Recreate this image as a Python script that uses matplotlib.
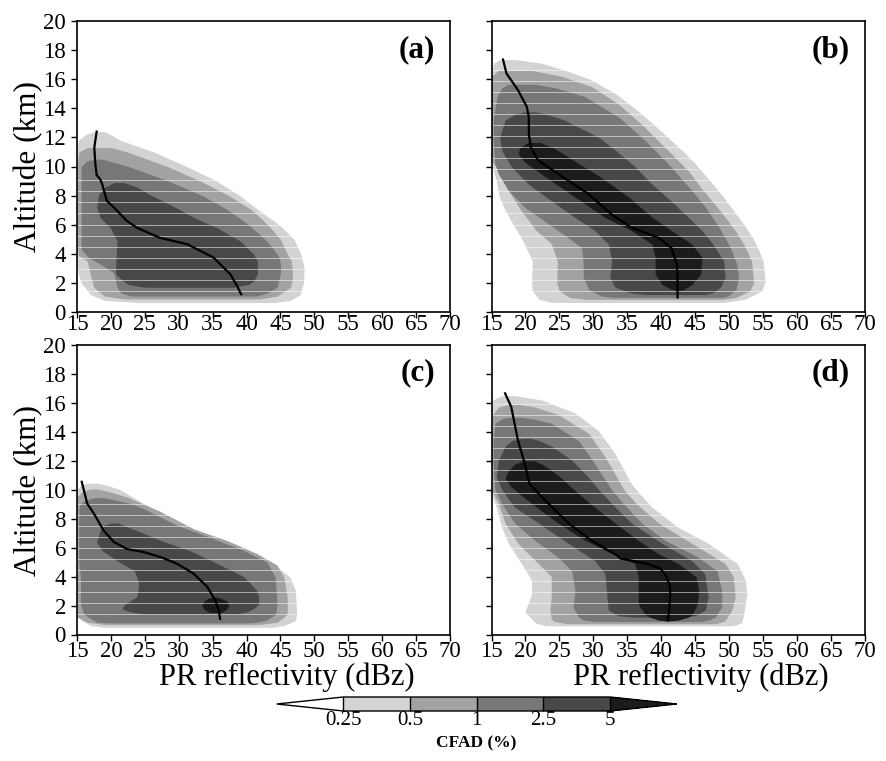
import numpy as np
import matplotlib
matplotlib.use("Agg")
from matplotlib import pyplot as plt
from matplotlib.colors import ListedColormap, BoundaryNorm
from matplotlib.cm import ScalarMappable

plt.rcParams["font.family"] = ["Liberation Serif", "DejaVu Serif"]

# CFAD levels (%) and their fill shades
LEVELS = [0.25, 0.5, 1, 2.5, 5]
LEVEL_LABELS = ["0.25", "0.5", "1", "2.5", "5"]
GRAYS = ["#d3d3d3", "#a2a2a2", "#777777", "#484848", "#1b1b1b"]

# Contour extents.
# Each row: altitude (km), left edge (dBZ), right edge (dBZ)
A_025 = np.array([
    [0.65, 24.0, 44.0], [0.8, 19.0, 46.5], [1.2, 17.0, 47.9], [2.0, 15.6, 48.4],
    [3.0, 15.0, 48.5], [4.0, 15.0, 48.0], [5.0, 15.0, 47.0], [6.0, 15.0, 44.8],
    [7.0, 15.0, 41.8], [8.0, 15.0, 39.0], [9.0, 15.0, 35.6], [10.0, 15.0, 31.2],
    [11.0, 15.0, 26.3], [11.8, 15.2, 21.4], [12.2, 16.3, 19.9], [12.4, 17.5, 19.0],
])
A_05 = np.array([
    [0.9, 22.0, 42.0], [1.1, 19.0, 44.5], [1.7, 17.5, 46.5], [2.5, 17.0, 46.8],
    [3.5, 16.5, 46.6], [3.9, 15.2, 46.1], [5.0, 15.0, 45.0], [6.0, 15.0, 43.1],
    [7.0, 15.0, 40.8], [8.0, 15.0, 37.4], [9.0, 15.0, 33.2], [10.0, 15.0, 28.3],
    [11.0, 15.3, 22.4], [11.3, 16.5, 20.0],
])
A_1 = np.array([
    [1.1, 23.0, 41.5], [1.3, 21.5, 43.0], [1.7, 20.9, 44.5], [2.7, 20.4, 45.0],
    [3.3, 18.4, 45.0], [3.75, 16.7, 44.8], [4.3, 15.6, 44.0], [5.0, 15.6, 42.7],
    [6.0, 15.6, 40.3], [7.0, 15.6, 37.3], [8.0, 15.6, 33.5], [9.0, 15.6, 28.5],
    [10.0, 15.6, 22.6], [10.4, 16.5, 19.5], [10.5, 17.5, 18.8],
])
A_25 = np.array([
    [1.7, 25.0, 38.0], [1.9, 22.5, 40.3], [2.1, 21.9, 41.0], [2.6, 20.7, 41.6],
    [3.5, 20.7, 41.6], [4.0, 20.8, 41.0], [4.9, 20.9, 39.0], [5.8, 19.9, 35.6],
    [6.5, 18.4, 32.2], [7.2, 17.9, 29.5], [8.1, 18.2, 25.6], [8.6, 19.2, 23.8],
    [8.9, 20.5, 21.9],
])

B_025 = np.array([
    [0.65, 24.0, 49.0], [0.87, 22.0, 52.3], [1.45, 21.0, 54.8], [2.1, 20.9, 55.3],
    [3.5, 21.0, 55.0], [4.2, 20.3, 54.4], [5.0, 19.5, 53.6], [6.0, 18.2, 52.2],
    [7.0, 17.0, 50.6], [8.0, 16.1, 49.0], [9.0, 15.7, 47.2], [10.2, 15.0, 45.0],
    [11.0, 15.0, 43.3], [12.0, 15.0, 41.0], [13.0, 15.0, 38.6], [14.0, 15.0, 36.1],
    [15.0, 15.0, 33.3], [16.0, 15.0, 29.5], [16.6, 15.0, 25.9], [17.1, 15.3, 22.4],
    [17.35, 16.3, 18.5],
])
B_05 = np.array([
    [0.87, 29.0, 49.0], [1.0, 26.5, 51.0], [1.45, 25.0, 53.0], [2.0, 24.6, 53.6],
    [3.5, 24.7, 53.3], [4.7, 23.8, 52.1], [5.6, 21.6, 50.9], [7.0, 19.3, 48.6],
    [8.5, 17.3, 45.9], [9.7, 16.1, 44.0], [10.4, 15.0, 42.5], [11.3, 15.0, 40.6],
    [12.9, 15.0, 37.1], [14.3, 15.0, 33.7], [15.5, 15.0, 29.7], [16.2, 15.0, 25.3],
    [16.6, 16.0, 21.0],
])
B_1 = np.array([
    [1.0, 33.0, 48.9], [1.1, 31.2, 49.8], [1.55, 29.3, 51.0], [2.4, 28.5, 51.4],
    [3.3, 28.5, 51.1], [4.4, 28.3, 50.2], [5.1, 26.3, 49.4], [6.05, 23.4, 48.2],
    [7.2, 19.9, 46.5], [8.35, 17.5, 44.5], [9.5, 16.0, 42.3], [10.2, 15.5, 41.0],
    [11.8, 15.25, 37.6], [13.4, 15.3, 33.7], [14.8, 15.8, 28.8], [15.4, 16.5, 24.5],
    [15.65, 17.5, 21.5],
])
B_25 = np.array([
    [1.2, 38.0, 46.4], [1.3, 35.6, 47.5], [1.7, 33.2, 48.7], [2.4, 32.4, 49.4],
    [3.5, 32.7, 49.2], [4.67, 32.2, 47.6], [5.6, 30.2, 46.0], [6.5, 27.3, 44.0],
    [7.65, 23.8, 41.4], [8.8, 20.4, 38.6], [10.0, 17.9, 36.1], [11.1, 16.5, 33.3],
    [12.0, 16.2, 30.8], [13.2, 17.0, 25.7], [13.6, 18.5, 23.0], [13.75, 19.8, 21.5],
])
B_5 = np.array([
    [1.5, 42.0, 43.0], [1.6, 41.3, 43.5], [1.9, 40.1, 44.5], [2.6, 39.1, 45.8],
    [3.75, 39.1, 46.0], [4.67, 38.6, 44.5], [5.6, 35.6, 41.5], [6.5, 31.7, 38.7],
    [7.9, 27.3, 35.2], [9.3, 22.9, 31.0], [10.3, 19.9, 27.5], [10.9, 18.9, 25.5],
    [11.3, 19.2, 24.0], [11.65, 20.3, 22.2],
])

C_025 = np.array([
    [0.5, 19.0, 44.0], [0.62, 17.0, 45.5], [0.97, 15.7, 47.2], [1.4, 15.0, 47.4],
    [3.05, 15.0, 47.2], [3.97, 15.0, 46.4], [4.66, 15.0, 44.5], [5.35, 15.0, 41.0],
    [6.3, 15.0, 36.6], [6.97, 15.0, 32.7], [7.9, 15.0, 28.8], [9.05, 15.0, 24.8],
    [10.0, 15.0, 21.4], [10.3, 15.5, 19.5], [10.45, 16.5, 18.0],
])
C_05 = np.array([
    [0.7, 19.0, 42.0], [0.85, 16.5, 44.5], [1.2, 15.0, 45.5], [1.43, 15.0, 46.0],
    [2.6, 15.0, 46.0], [3.97, 15.0, 45.5], [4.8, 15.0, 44.5], [5.6, 15.0, 41.5],
    [6.5, 15.0, 37.1], [7.3, 15.0, 32.2], [8.5, 15.0, 27.3], [9.5, 15.0, 22.4],
    [9.9, 15.8, 19.5], [10.05, 17.0, 18.0],
])
C_1 = np.array([
    [0.8, 20.0, 40.0], [0.85, 18.0, 41.5], [0.97, 17.5, 42.8], [1.4, 16.0, 44.3],
    [2.1, 15.5, 44.5], [4.0, 15.5, 44.2], [5.0, 15.25, 43.0], [5.8, 15.25, 39.6],
    [6.7, 15.25, 34.7], [7.55, 15.25, 29.7], [8.7, 15.3, 24.8], [9.05, 15.5, 23.0],
    [9.3, 16.3, 20.5], [9.45, 17.5, 19.0],
])
C_25 = np.array([
    [1.43, 25.0, 38.6], [1.55, 22.9, 40.0], [1.78, 21.6, 41.0], [2.1, 22.1, 41.8],
    [2.6, 23.8, 41.8], [3.05, 24.0, 41.5], [3.5, 24.1, 40.6], [4.0, 23.8, 39.6],
    [4.4, 23.4, 37.9], [4.8, 22.0, 36.1], [5.1, 20.9, 34.8], [5.8, 18.7, 31.6],
    [6.4, 17.9, 27.9], [7.2, 18.4, 23.7], [7.55, 19.0, 21.9], [7.7, 20.0, 21.0],
])
C_5 = np.array([
    [1.52, 34.6, 36.2], [1.7, 33.8, 37.0], [2.0, 33.4, 37.4], [2.3, 33.7, 37.1],
    [2.5, 34.3, 36.2], [2.58, 35.0, 35.6],
])

D_025 = np.array([
    [0.6, 23.0, 50.5], [0.8, 21.5, 51.8], [1.1, 20.9, 52.0], [1.55, 19.9, 52.2],
    [1.9, 20.2, 52.3], [2.8, 20.9, 52.6], [3.75, 20.9, 52.4], [4.9, 19.4, 51.2],
    [6.3, 17.5, 46.9], [7.4, 16.5, 42.5], [8.8, 15.7, 38.6], [9.75, 15.0, 36.8],
    [10.4, 15.0, 35.6], [12.5, 15.0, 33.2], [14.1, 15.0, 30.7], [15.3, 15.0, 27.3],
    [16.2, 15.2, 22.4], [16.5, 16.5, 18.5],
])
D_05 = np.array([
    [0.75, 26.0, 48.0], [0.9, 24.2, 49.2], [1.1, 23.8, 49.6], [1.7, 23.6, 50.4],
    [2.6, 23.8, 50.9], [4.0, 23.8, 50.6], [4.9, 21.9, 49.4], [6.3, 18.9, 44.5],
    [7.7, 17.0, 39.6], [9.05, 16.0, 36.3], [10.0, 15.0, 34.5], [12.3, 15.0, 31.7],
    [13.9, 15.0, 29.3], [15.2, 15.2, 24.8], [15.7, 16.0, 21.5], [15.9, 17.5, 19.0],
])
D_1 = np.array([
    [0.9, 30.0, 46.0], [1.0, 28.5, 47.0], [1.2, 27.8, 47.9], [1.9, 27.0, 48.9],
    [3.05, 27.3, 48.9], [4.4, 26.8, 48.2], [5.35, 24.8, 45.4], [6.5, 21.4, 40.6],
    [7.7, 18.4, 37.1], [9.05, 16.5, 34.4], [10.0, 15.5, 32.7], [11.8, 15.25, 30.2],
    [13.4, 15.25, 27.8], [14.6, 15.5, 23.8], [14.9, 16.5, 21.0], [15.0, 17.5, 19.5],
])
D_25 = np.array([
    [1.2, 36.0, 42.0], [1.3, 33.7, 45.0], [1.7, 32.2, 46.5], [2.6, 32.0, 46.9],
    [4.2, 31.7, 46.4], [5.1, 30.2, 44.5], [6.3, 26.3, 40.1], [7.7, 21.9, 35.6],
    [8.8, 18.4, 33.2], [10.0, 16.5, 30.8], [10.9, 15.7, 29.2], [12.05, 16.0, 26.8],
    [13.0, 17.0, 23.9], [13.4, 18.0, 22.0], [13.55, 19.5, 20.8],
])
D_5 = np.array([
    [0.95, 40.5, 41.5], [1.0, 39.6, 42.5], [1.2, 38.3, 44.0], [1.4, 37.6, 44.6],
    [2.1, 36.6, 45.3], [3.05, 36.6, 45.5], [4.0, 36.6, 45.1], [4.9, 36.1, 42.5],
    [5.6, 32.7, 39.5], [6.5, 28.8, 36.6], [7.7, 24.8, 33.2], [9.05, 20.9, 29.5],
    [10.2, 17.9, 26.7], [10.8, 17.0, 25.3], [11.35, 17.5, 23.8], [11.8, 18.5, 22.3],
    [12.0, 19.8, 21.2],
])

# Mean reflectivity profiles: altitude (km), reflectivity (dBZ)
A_MEAN = np.array([
    [12.4, 17.9], [11.3, 17.55], [10.2, 17.7], [9.4, 17.9], [9.15, 18.4],
    [8.8, 18.7], [7.65, 19.4], [6.97, 20.9], [6.28, 22.3], [5.8, 23.8],
    [5.1, 27.2], [4.67, 31.2], [3.75, 35.1], [2.6, 37.6], [1.8, 38.6], [1.22, 39.2],
])
B_MEAN = np.array([
    [17.35, 16.7], [16.4, 17.2], [15.25, 18.9], [14.1, 20.2], [13.4, 20.5],
    [12.25, 20.5], [11.3, 20.8], [10.4, 21.9], [9.5, 24.8], [8.1, 29.3],
    [6.7, 32.7], [5.8, 35.6], [5.1, 39.6], [4.4, 41.5], [3.3, 42.3], [2.1, 42.4],
    [1.0, 42.4],
])
C_MEAN = np.array([
    [10.55, 15.7], [9.05, 16.5], [8.35, 17.5], [7.2, 18.9], [6.4, 20.4],
    [5.9, 22.4], [5.7, 24.8], [5.35, 27.3], [4.9, 29.7], [4.2, 32.2],
    [3.3, 34.2], [2.35, 35.4], [1.66, 35.9], [1.08, 36.1],
])
D_MEAN = np.array([
    [16.66, 17.0], [15.74, 17.9], [13.4, 18.9], [11.8, 19.9], [10.4, 20.6],
    [9.5, 22.4], [7.7, 26.3], [6.5, 29.7], [5.81, 32.2], [5.47, 33.5],
    [5.24, 34.0], [5.17, 34.9], [4.89, 37.9], [4.54, 39.9], [3.97, 40.8],
    [3.27, 41.3], [2.58, 41.3], [0.97, 41.0],
])

PANEL_NAMES = ["(a)", "(b)", "(c)", "(d)"]
PANEL_FILLS = [
    [A_025, A_05, A_1, A_25],
    [B_025, B_05, B_1, B_25, B_5],
    [C_025, C_05, C_1, C_25, C_5],
    [D_025, D_05, D_1, D_25, D_5],
]
PANEL_MEANS = [A_MEAN, B_MEAN, C_MEAN, D_MEAN]
STRIPE_TOP = [9.2, 16.8, 9.2, 16.0]  # faint white raster lines in the original

W, H = 887, 761
fig = plt.figure(figsize=(W / 100, H / 100), dpi=100)


def box(x0, y0, x1, y1):
    return [x0 / W, 1 - y1 / H, (x1 - x0) / W, (y1 - y0) / H]


boxes = [box(77, 21, 450, 312), box(491.5, 21, 865, 312),
         box(77, 345, 450, 634.5), box(491.5, 345, 865, 634.5)]

for i in range(4):
    ax = fig.add_axes(boxes[i])
    for lev, col in zip(PANEL_FILLS[i], GRAYS):
        ax.fill_betweenx(lev[:, 0], lev[:, 1], lev[:, 2], color=col, lw=0)
    for y in np.arange(1.45, STRIPE_TOP[i], 0.76):
        ax.axhline(y, color="white", lw=0.7, alpha=0.55, zorder=1.5)
    mean = PANEL_MEANS[i]
    ax.plot(mean[:, 1], mean[:, 0], color="black", lw=1.6, zorder=3)

    ax.set_xlim(15, 70)
    ax.set_ylim(0, 20)
    ax.set_xticks(np.arange(15, 71, 5))
    ax.set_yticks(np.arange(0, 21, 2))
    ax.tick_params(direction="out", length=4.5, width=1, labelsize=16.5)
    ax.tick_params(axis="y", pad=3.5)
    ax.tick_params(axis="x", pad=-3.0 if i < 2 else 0.5)
    if i % 2 == 1:
        ax.tick_params(labelleft=False)
    for s in ax.spines.values():
        s.set_linewidth(1.2)
    ax.text(0.96, 0.903, PANEL_NAMES[i], transform=ax.transAxes,
            ha="right", va="center", fontsize=22.5, fontweight="bold")

# axis titles
fig.text(28.5 / W, 1 - 167 / H, "Altitude (km)", rotation=90,
         ha="center", va="center", fontsize=22.5)
fig.text(28.5 / W, 1 - 490 / H, "Altitude (km)", rotation=90,
         ha="center", va="center", fontsize=22.5)
fig.text(287 / W, 1 - 677 / H, "PR reflectivity (dBz)",
         ha="center", va="center", fontsize=22)
fig.text(701 / W, 1 - 677 / H, "PR reflectivity (dBz)",
         ha="center", va="center", fontsize=22)

# colour bar
cmap = ListedColormap(GRAYS[:4]).with_extremes(under="white", over=GRAYS[4])
norm = BoundaryNorm(LEVELS, 4)
cax = fig.add_axes(box(276.7, 697, 676.7, 711))
cb = fig.colorbar(ScalarMappable(norm=norm, cmap=cmap), cax=cax,
                  orientation="horizontal", extend="both", extendfrac=0.25,
                  spacing="uniform", ticks=LEVELS, drawedges=True)
cb.set_ticklabels(LEVEL_LABELS)
cb.ax.tick_params(length=0, labelsize=15, pad=0.3)
cb.outline.set_linewidth(1)
cb.dividers.set_linewidth(1)
fig.text(476 / W, 1 - 747 / H, "CFAD (%)", ha="center", va="baseline",
         fontsize=12.5, fontweight="bold")

fig.savefig("out.png", dpi=100)
